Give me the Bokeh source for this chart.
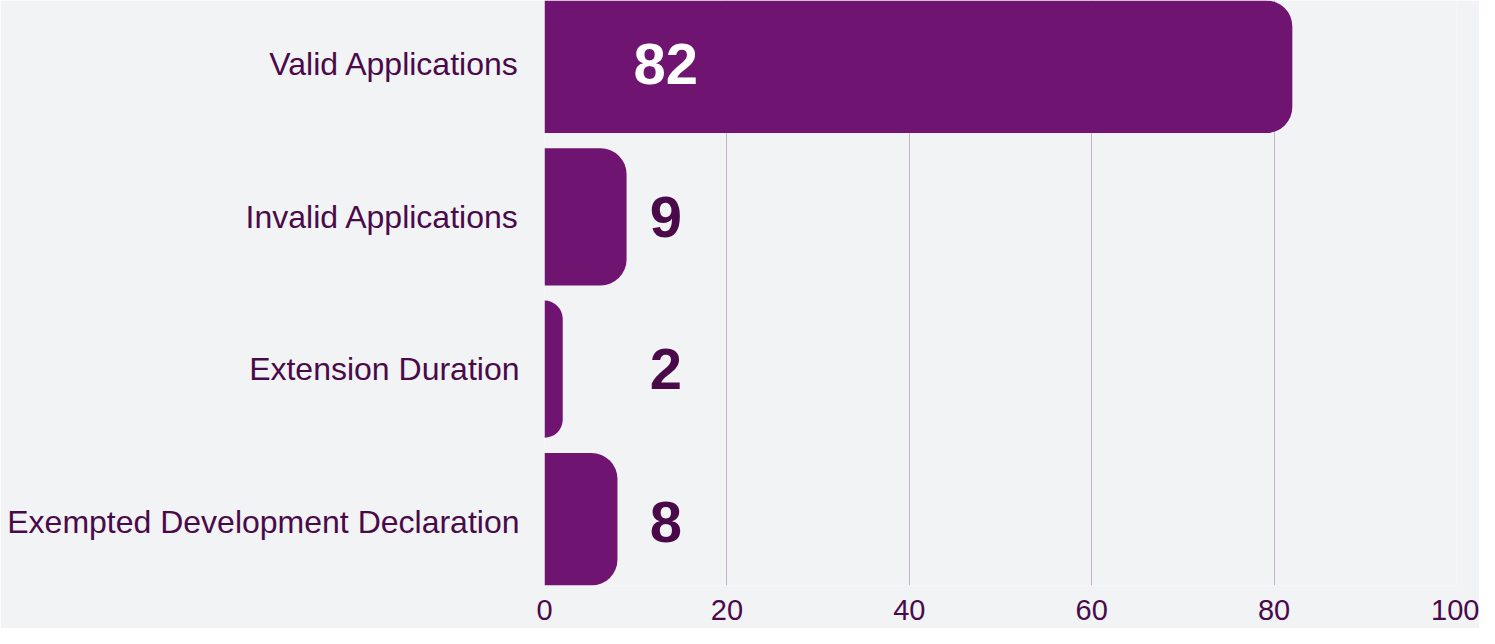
from bokeh.plotting import figure
from bokeh.models import ColumnDataSource, FactorRange, FixedTicker
from bokeh.embed import file_html
from bokeh.resources import INLINE
from bokeh.core.properties import value

categories = ["Valid Applications", "Invalid Applications", "Extension Duration",
              "Exempted Development Declaration"]
counts = [82, 9, 2, 8]
x_ticks = [0, 20, 40, 60, 80, 100]

BAR = "#6f1470"
DARK = "#4a0a4a"
BG = "#f2f3f4"
FONT = "Liberation Sans"

src = ColumnDataSource(dict(
    cat=categories,
    count=counts,
    label=[str(c) for c in counts],
    tcolor=["white" if c > 40 else DARK for c in counts],
))

y_range = FactorRange(factors=list(reversed(categories)), range_padding=-0.08,
                      range_padding_units="absolute")

p = figure(width=1479, height=628, y_range=y_range, x_range=(0, 100),
           output_backend="svg", toolbar_location=None,
           min_border_left=544, min_border_right=23, min_border_top=0,
           min_border_bottom=43)

p.background_fill_color = BG
p.border_fill_color = BG
p.outline_line_color = None

p.hbar(y="cat", left=0, right="count", height=0.9, source=src,
       fill_color=BAR, line_color=None, border_radius=(0, 26, 26, 0))

p.text(x=13.3, y="cat", text="label", source=src, text_color="tcolor",
       text_font=value(FONT), text_font_style="bold", text_font_size="58px",
       text_align="center", text_baseline="middle")

p.xgrid.grid_line_color = "#c6b2c8"
p.xgrid.grid_line_width = 1
p.ygrid.grid_line_color = None

p.xaxis.ticker = FixedTicker(ticks=x_ticks)
for ax in (p.xaxis[0], p.yaxis[0]):
    ax.axis_line_color = None
    ax.major_tick_line_color = None
    ax.minor_tick_line_color = None
    ax.major_label_text_color = DARK
    ax.major_label_text_font = FONT

p.xaxis.major_label_text_font_size = "29px"
p.xaxis.major_label_standoff = 8
p.yaxis.major_label_text_font_size = "32px"
p.yaxis.major_label_standoff = 19

open("out.html", "w").write(file_html(p, INLINE))
